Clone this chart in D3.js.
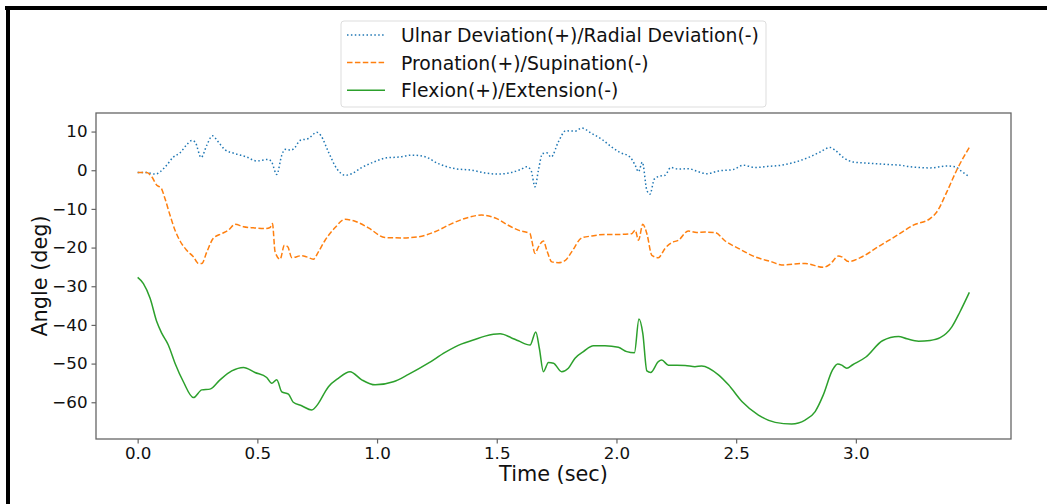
<!DOCTYPE html>
<html>
<head>
<meta charset="utf-8">
<script src="https://cdn.jsdelivr.net/npm/d3@7"></script>
<style>
  body { margin: 0; background: white; }
  svg { display: block; font-family: "DejaVu Sans", sans-serif; }
</style>
</head>
<body>
<svg id="chart" width="1047" height="504"></svg>
<script>
// data: [time (sec), angle (deg)]
var ulnar = [
  [0, -0.6], [0.038, -0.6], [0.073, -1.0], [0.094, -0.4], [0.121, 1.3], [0.149, 3.4], [0.177, 4.5],
  [0.205, 6.6], [0.226, 7.7], [0.24, 7.3], [0.265, 3.3], [0.289, 6.5], [0.312, 8.9], [0.337, 7.3],
  [0.365, 5.3], [0.407, 4.3], [0.456, 3.4], [0.497, 2.4], [0.546, 2.8], [0.56, 2.1], [0.581, -1.1],
  [0.602, 3.9], [0.616, 5.4], [0.641, 5.2], [0.657, 5.9], [0.678, 7.7], [0.713, 8.2], [0.748, 9.8],
  [0.765, 9.0], [0.797, 4.7], [0.832, 0.4], [0.866, -1.3], [0.894, -0.9], [0.936, 0.7], [0.985, 2.1],
  [1.040, 3.2], [1.089, 3.4], [1.145, 3.9], [1.200, 3.5], [1.256, 1.7], [1.326, 0.4], [1.396, 0],
  [1.451, -0.7], [1.507, -1.0], [1.560, -0.6], [1.600, 0.2], [1.625, 0.9], [1.643, 0], [1.660, -4.3],
  [1.674, 0], [1.691, 4.3], [1.709, 4.5], [1.727, 3.4], [1.757, 7.3], [1.788, 10.2], [1.827, 10.1],
  [1.855, 10.9], [1.897, 9.5], [1.939, 8.0], [1.980, 6.0], [2.015, 4.6], [2.057, 3.4], [2.078, 1.3],
  [2.092, -0.4], [2.108, 2.1], [2.127, -5.2], [2.140, -6.2], [2.158, -2.3], [2.182, -1.5], [2.203, -1.3],
  [2.227, 0.7], [2.259, 0.3], [2.300, 0.4], [2.342, -0.4], [2.377, -0.9], [2.426, -0.2], [2.488, 0.2],
  [2.530, 1.3], [2.579, 0.7], [2.635, 1.0], [2.690, 1.3], [2.746, 2.1], [2.802, 3.3], [2.850, 4.7],
  [2.892, 5.9], [2.913, 5.2], [2.948, 3.3], [2.990, 2.1], [3.055, 1.8], [3.129, 1.5], [3.185, 1.3],
  [3.226, 0.9], [3.310, 0.6], [3.380, 1.1], [3.414, 0.9], [3.442, -0.3], [3.474, -1.7]
];

var pronation = [
  [0, -0.6], [0.038, -0.6], [0.059, -1.7], [0.080, -3.9], [0.098, -4.6], [0.114, -7.3], [0.135, -11.6],
  [0.156, -15.5], [0.177, -18.3], [0.205, -20.7], [0.233, -22.4], [0.254, -24.1], [0.268, -24.1],
  [0.289, -21.1], [0.316, -17.6], [0.351, -16.4], [0.379, -15.5], [0.407, -14.0], [0.442, -14.6],
  [0.483, -14.9], [0.532, -15.1], [0.553, -14.8], [0.563, -13.8], [0.574, -21.1], [0.595, -23.0],
  [0.613, -19.4], [0.627, -19.8], [0.644, -22.6], [0.685, -22.1], [0.706, -22.4], [0.734, -23.0],
  [0.755, -21.1], [0.783, -18.1], [0.825, -14.8], [0.866, -12.7], [0.908, -13.2], [0.964, -14.9],
  [1.033, -17.4], [1.103, -17.5], [1.173, -17.2], [1.242, -15.9], [1.312, -13.8], [1.381, -12.2],
  [1.437, -11.6], [1.500, -12.5], [1.550, -14.3], [1.590, -15.5], [1.639, -16.4], [1.646, -18.1],
  [1.660, -21.5], [1.674, -19.8], [1.695, -18.3], [1.709, -20.7], [1.730, -23.7], [1.757, -23.9],
  [1.785, -23.4], [1.813, -21.1], [1.855, -17.5], [1.897, -17.0], [1.952, -16.6], [2.008, -16.6],
  [2.064, -16.4], [2.078, -15.5], [2.092, -18.1], [2.110, -14.0], [2.127, -16.4], [2.148, -22.0],
  [2.175, -22.6], [2.203, -20.2], [2.231, -18.7], [2.259, -18.1], [2.300, -15.7], [2.335, -16.1],
  [2.370, -16.0], [2.412, -16.1], [2.454, -18.3], [2.509, -20.2], [2.579, -22.4], [2.649, -23.7],
  [2.690, -24.5], [2.788, -24.1], [2.864, -25.1], [2.892, -24.3], [2.927, -22.2], [2.941, -22.4],
  [2.969, -23.6], [3.028, -22.3], [3.098, -19.6], [3.168, -17.0], [3.240, -14.2], [3.310, -12.5],
  [3.338, -10.8], [3.380, -5.6], [3.421, 0], [3.474, 5.9]
];

var flexion = [
  [0, -27.7], [0.024, -29.3], [0.052, -33.1], [0.080, -39.2], [0.101, -42.2], [0.128, -45.2],
  [0.156, -49.9], [0.191, -54.7], [0.233, -58.8], [0.268, -56.8], [0.302, -56.6], [0.344, -54.2],
  [0.393, -51.9], [0.442, -51.0], [0.490, -52.3], [0.539, -53.6], [0.560, -55.1], [0.581, -54.2],
  [0.602, -57.3], [0.630, -57.9], [0.650, -60.0], [0.685, -60.9], [0.727, -62.0], [0.755, -60.3],
  [0.783, -57.3], [0.797, -56.0], [0.838, -53.8], [0.887, -52.1], [0.936, -54.2], [0.992, -55.5],
  [1.068, -54.7], [1.131, -52.8], [1.214, -49.9], [1.284, -47.1], [1.354, -44.9], [1.402, -43.9],
  [1.451, -42.9], [1.514, -42.3], [1.560, -43.3], [1.590, -44.1], [1.639, -45.2], [1.663, -41.8],
  [1.678, -46.1], [1.695, -52.1], [1.716, -49.7], [1.737, -49.9], [1.771, -52.1], [1.799, -51.2],
  [1.827, -48.6], [1.862, -46.9], [1.904, -45.4], [1.952, -45.4], [2.008, -45.8], [2.043, -46.9],
  [2.075, -47.2], [2.094, -38.5], [2.110, -42.2], [2.127, -51.9], [2.143, -52.3], [2.175, -49.5],
  [2.189, -49.1], [2.217, -50.4], [2.287, -50.5], [2.328, -50.8], [2.356, -50.6], [2.426, -52.9],
  [2.468, -55.5], [2.524, -59.8], [2.593, -63.3], [2.663, -65.2], [2.732, -65.6], [2.788, -64.6],
  [2.830, -62.4], [2.864, -58.1], [2.902, -51.7], [2.924, -50.1], [2.941, -50.4], [2.962, -51.2],
  [2.987, -50.3], [3.042, -48.3], [3.111, -44.1], [3.178, -43.0], [3.213, -43.6], [3.262, -44.2],
  [3.310, -44.0], [3.352, -43.3], [3.401, -40.5], [3.435, -36.6], [3.474, -31.6]
];

var seriesNames = ["Ulnar Deviation(+)/Radial Deviation(-)", "Pronation(+)/Supination(-)", "Flexion(+)/Extension(-)"];
var xTicks = [0, 0.5, 1.0, 1.5, 2.0, 2.5, 3.0];
var yTicks = [10, 0, -10, -20, -30, -40, -50, -60];

//plot area
var plot_left = 96, plot_right = 1011, plot_top = 113, plot_bottom = 439;

var svg = d3.select("#chart");

// black frame lines at top and left
svg.append("rect").attr("x", 5).attr("y", 6).attr("width", 1042).attr("height", 4).style("fill", "#000");
svg.append("rect").attr("x", 6).attr("y", 6).attr("width", 4).attr("height", 498).style("fill", "#000");

var x = d3.scaleLinear().domain([-0.174, 3.648]).range([plot_left, plot_right]);
var y = d3.scaleLinear().domain([-69.5, 14.8]).range([plot_bottom, plot_top]);

var styles = [
  { data: ulnar, color: "#1f77b4", dash: "1.5,2.4" },
  { data: pronation, color: "#ff7f0e", dash: "5.5,2.4" },
  { data: flexion, color: "#2ca02c", dash: null }
];

var line = d3.line().x(d => x(d[0])).y(d => y(d[1])).curve(d3.curveMonotoneX);

var plotg = svg.append("g");
styles.forEach(function (s) {
  var p = plotg.append("path").datum(s.data).attr("d", line)
    .style("fill", "none").style("stroke", s.color).style("stroke-width", 1.5);
  if (s.dash) p.style("stroke-dasharray", s.dash);
});

// axes
var xAxis = d3.axisBottom(x).tickValues(xTicks).tickFormat(d3.format(".1f")).tickSize(4.5).tickPadding(4);
var yAxis = d3.axisLeft(y).tickValues(yTicks).tickFormat(d3.format("d")).tickSize(4.5).tickPadding(4);

var gx = svg.append("g").attr("transform", `translate(0,${plot_bottom})`).call(xAxis);
var gy = svg.append("g").attr("transform", `translate(${plot_left},0)`).call(yAxis);
[gx, gy].forEach(function (g) {
  g.select(".domain").remove();
  g.selectAll(".tick line").style("stroke", "#666").style("stroke-width", 1.2);
  g.selectAll(".tick text").style("font-size", "16.7px").style("fill", "#111")
    .style("font-family", "'DejaVu Sans', sans-serif");
});

// frame of the axes
svg.append("rect").attr("x", plot_left).attr("y", plot_top)
  .attr("width", plot_right - plot_left).attr("height", plot_bottom - plot_top)
  .style("fill", "none").style("stroke", "#666").style("stroke-width", 1.3);

// axis labels
svg.append("text").attr("x", (plot_left + plot_right) / 2).attr("y", 481)
  .attr("text-anchor", "middle").style("font-size", "20.8px").style("fill", "#111").text("Time (sec)");
svg.append("text").attr("transform", `translate(47,${(plot_top + plot_bottom) / 2}) rotate(-90)`)
  .attr("text-anchor", "middle").style("font-size", "20.8px").style("fill", "#111").text("Angle (deg)");

// legend
var legend = svg.append("g");
legend.append("rect").attr("x", 341).attr("y", 21).attr("width", 425).attr("height", 86).attr("rx", 3)
  .style("fill", "white").style("fill-opacity", 0.8).style("stroke", "#ddd").style("stroke-width", 1);

styles.forEach(function (s, i) {
  var ly = 35 + i * 27.6;
  var l = legend.append("line").attr("x1", 347).attr("x2", 385).attr("y1", ly).attr("y2", ly)
    .style("stroke", s.color).style("stroke-width", 1.5);
  if (s.dash) l.style("stroke-dasharray", s.dash);
  legend.append("text").attr("x", 401).attr("y", ly + 7)
    .style("font-size", "18.8px").style("fill", "#111").text(seriesNames[i]);
});
</script>
</body>
</html>
